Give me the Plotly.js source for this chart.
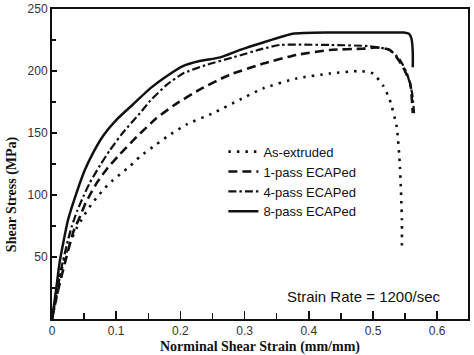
<!DOCTYPE html>
<html>
<head>
<meta charset="utf-8">
<script src="https://cdn.plot.ly/plotly-3.0.1.min.js"></script>
<style>html,body{margin:0;padding:0;background:#fff;}#chart{width:474px;height:355px;}</style>
</head>
<body>
<div id="chart"></div>
<script>
// As-extruded
const asExtX = [0, 0.008, 0.015, 0.023, 0.031, 0.038, 0.046, 0.053, 0.062, 0.073, 0.083, 0.095, 0.109, 0.121, 0.137, 0.163, 0.179, 0.21, 0.251, 0.293, 0.329, 0.381, 0.433, 0.48, 0.5, 0.516, 0.526, 0.537, 0.542, 0.545, 0.545];
const asExtY = [0, 20, 40, 55, 65, 73, 80, 86, 93, 100, 106, 112, 118, 123, 131, 141, 147, 157, 166, 177, 186, 194, 198, 200, 198, 188, 177, 155, 123, 80, 55];
// 1-pass ECAPed
const pass1X = [0, 0.008, 0.02, 0.033, 0.044, 0.051, 0.059, 0.07, 0.087, 0.106, 0.132, 0.163, 0.189, 0.23, 0.277, 0.329, 0.381, 0.433, 0.484, 0.506, 0.526, 0.537, 0.547, 0.558, 0.562];
const pass1Y = [0, 20, 45, 70, 83, 92, 100, 110, 122, 133, 147, 162, 172, 185, 197, 206, 213, 217, 218, 219, 217, 211, 203, 190, 166];
// 4-pass ECAPed
const pass4X = [0, 0.008, 0.015, 0.025, 0.031, 0.039, 0.049, 0.059, 0.075, 0.09, 0.11, 0.137, 0.153, 0.179, 0.204, 0.241, 0.282, 0.329, 0.355, 0.433, 0.495, 0.526, 0.542, 0.553, 0.561, 0.564];
const pass4Y = [0, 22, 42, 64, 75, 87, 99, 110, 124, 136, 150, 166, 176, 189, 198, 205, 211, 218, 221, 221, 220, 217, 209, 198, 182, 166];
// 8-pass ECAPed
const pass8X = [0, 0.006, 0.012, 0.025, 0.039, 0.051, 0.064, 0.08, 0.101, 0.126, 0.153, 0.179, 0.204, 0.23, 0.262, 0.293, 0.329, 0.375, 0.433, 0.5, 0.548, 0.556, 0.56, 0.562, 0.562];
const pass8Y = [0, 22, 46, 80, 103, 120, 134, 148, 161, 173, 186, 196, 204, 208, 211, 217, 223, 230, 231, 231, 231, 230, 226, 215, 203];

const seriesNames = ['As-extruded', '1-pass ECAPed', '4-pass ECAPed', '8-pass ECAPed'];
const xTickVals = [0, 0.1, 0.2, 0.3, 0.4, 0.5, 0.6];
const xTickText = ['0', '0.1', '0.2', '0.3', '0.4', '0.5', '0.6'];
const yTickVals = [50, 100, 150, 200, 250];

const traces = [
  {x: asExtX, y: asExtY, name: seriesNames[0], mode: 'lines', line: {color: '#111', width: 2.6, dash: '2.5px,6px', shape: 'spline', smoothing: 0.5}},
  {x: pass1X, y: pass1Y, name: seriesNames[1], mode: 'lines', line: {color: '#111', width: 2.6, dash: '9px,5px', shape: 'spline', smoothing: 0.5}},
  {x: pass4X, y: pass4Y, name: seriesNames[2], mode: 'lines', line: {color: '#111', width: 2.2, dash: '8px,3px,2.5px,3px', shape: 'spline', smoothing: 0.5}},
  {x: pass8X, y: pass8Y, name: seriesNames[3], mode: 'lines', line: {color: '#111', width: 2.5, shape: 'spline', smoothing: 0.5}}
];

const layout = {
  width: 474, height: 355,
  margin: {l: 52, r: 6, t: 9, b: 36},
  paper_bgcolor: '#fff', plot_bgcolor: '#fff',
  showlegend: true,
  legend: {x: 0.412, y: 0.588, xanchor: 'left', yanchor: 'top', bgcolor: 'rgba(0,0,0,0)',
           font: {family: 'Liberation Sans, Arial, sans-serif', size: 13, color: '#111'}, tracegroupgap: 0},
  xaxis: {
    range: [0, 0.648], showgrid: false, zeroline: false,
    showline: true, linecolor: '#111', linewidth: 2, mirror: true,
    ticks: 'inside', ticklen: 8, tickwidth: 1.5, tickcolor: '#111',
    tickvals: xTickVals, ticktext: xTickText,
    minor: {ticks: 'inside', dtick: 0.05, ticklen: 6, tickwidth: 1.5, tickcolor: '#111'},
    tickfont: {family: 'Liberation Sans, Arial, sans-serif', size: 12, color: '#333'},
    title: {text: 'Norminal Shear Strain (mm/mm)', standoff: 5,
            font: {family: 'Liberation Serif, Times New Roman, serif', size: 14, color: '#111', weight: 'bold'}}
  },
  yaxis: {
    range: [0, 250], showgrid: false, zeroline: false,
    showline: true, linecolor: '#111', linewidth: 2, mirror: true,
    ticks: 'inside', ticklen: 5, tickwidth: 1.5, tickcolor: '#111',
    tickvals: yTickVals,
    minor: {ticks: 'inside', dtick: 25, ticklen: 4, tickwidth: 1.5, tickcolor: '#111'},
    tickfont: {family: 'Liberation Sans, Arial, sans-serif', size: 12, color: '#333'}
  },
  annotations: [
    {text: '<b>Shear Stress (MPa)</b>', xref: 'paper', yref: 'paper', x: -0.096, y: 0.403,
     xanchor: 'center', yanchor: 'middle', textangle: -90, showarrow: false,
     font: {family: 'Liberation Serif, Times New Roman, serif', size: 14, color: '#111'}},
    {text: 'Strain Rate = 1200/sec', xref: 'x', yref: 'y', x: 0.609, y: 18.5,
     xanchor: 'right', yanchor: 'middle', showarrow: false,
     font: {family: 'Liberation Sans, Arial, sans-serif', size: 15, color: '#111'}}
  ]
};

Plotly.newPlot('chart', traces, layout, {staticPlot: true, displayModeBar: false});
</script>
</body>
</html>
